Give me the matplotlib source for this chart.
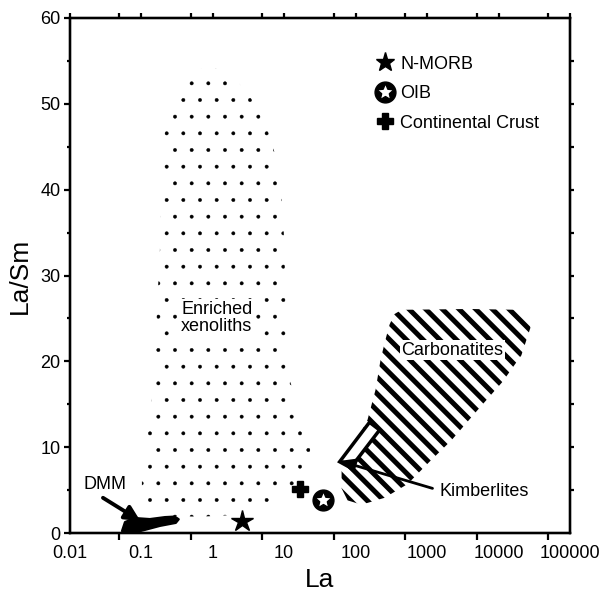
import matplotlib
matplotlib.use('Agg')
import numpy as np
import matplotlib.pyplot as plt
from matplotlib.patches import Polygon
from matplotlib.lines import Line2D
from matplotlib.path import Path

plt.rcParams['font.family'] = ['Liberation Sans', 'DejaVu Sans']

# axis ticks
la_ticks = [0.01, 0.1, 1, 10, 100, 1000, 10000, 100000]
la_tick_labels = ['0.01', '0.1', '1', '10', '100', '1000', '10000', '100000']
la_half_ticks = [0.05, 0.5, 5, 50, 500, 5000, 50000]
lasm_ticks = [0, 10, 20, 30, 40, 50, 60]
lasm_half_ticks = [5, 15, 25, 35, 45, 55]

# reservoirs (La, La/Sm)
nmorb = (2.6, 1.4)
oib = (35, 3.9)
crust = (17, 5.1)

# enriched xenolith field outline
xeno_la = [0.81, 1.75, 3.3, 5.9, 8.7, 9.9, 10.6, 12.0, 16.6, 22.9, 23.6, 12.0,
           5.4, 2.05, 0.67, 0.216, 0.133, 0.103, 0.103, 0.142, 0.162, 0.184,
           0.196, 0.238, 0.35]
xeno_lasm = [54.5, 53.5, 51.0, 47.0, 42.3, 35.3, 27.2, 17.8, 14.3, 12.0, 6.8, 5.2,
             3.3, 2.1, 1.9, 2.0, 3.3, 5.0, 7.3, 15.5, 23.7, 33.0,
             44.6, 49.3, 52.2]

# carbonatite field outline
carb_la = [440, 3924, 19600, 27040, 27920, 20890, 11350, 5073, 2198, 1084,
           534.5, 254.9, 121.6, 77.6, 63.9, 63.9, 97.1, 147.5, 190.9, 224.3,
           260, 300, 350]
carb_lasm = [26.0, 26.1, 26.0, 25.1, 23.9, 20.7, 17.6, 14.3, 10.8, 8.3,
             5.7, 4.1, 3.3, 3.8, 5.2, 7.3, 10.3, 13.2, 16.7, 20.2,
             22.4, 24.3, 25.5]

# kimberlite box
kimb_la = [60.0, 157, 217, 85.5]
kimb_lasm = [8.3, 12.9, 12.0, 7.6]

# DMM field
dmm_la = [0.0541, 0.0596, 0.0822, 0.133, 0.216, 0.297, 0.338, 0.307, 0.184,
          0.113, 0.0822, 0.0596]
dmm_lasm = [0.23, 1.28, 1.75, 1.63, 1.86, 1.92, 1.6, 1.17, 0.82, 0.35, 0.06, 0.0]

# OIB symbol: black disc with a white star cut out
circ = Path.unit_circle()
star = Path.unit_regular_star(5, 0.45)
oib_marker = Path(np.concatenate([circ.vertices, star.vertices[::-1] * 0.86]),
                  np.concatenate([circ.codes, star.codes]))

fig = plt.figure(figsize=(6.02, 5.92), dpi=100)
ax = fig.add_axes([69.5 / 602, 59 / 592, 500.5 / 602, 515 / 592])
ax.set_xscale('log')
ax.set_xlim(0.01, 100000)
ax.set_ylim(0, 60)

# fields
xeno = Polygon(list(zip(xeno_la, xeno_lasm)), closed=True, facecolor='none',
               edgecolor='black', linewidth=0, hatch='.', zorder=1)
if hasattr(xeno, 'set_hatch_linewidth'):
    xeno.set_hatch_linewidth(0.3)
ax.add_patch(xeno)

carb = Polygon(list(zip(carb_la, carb_lasm)), closed=True, facecolor='none',
               edgecolor='black', linewidth=0, hatch='\\\\', zorder=1)
if hasattr(carb, 'set_hatch_linewidth'):
    carb.set_hatch_linewidth(3.6)
ax.add_patch(carb)

kimb = Polygon(list(zip(kimb_la, kimb_lasm)), closed=True, facecolor='white',
               edgecolor='black', linewidth=2.5, zorder=3)
ax.add_patch(kimb)

dmm = Polygon(list(zip(dmm_la, dmm_lasm)), closed=True, facecolor='black',
              edgecolor='black', linewidth=1.5, joinstyle='round', zorder=3)
ax.add_patch(dmm)

# labels
ax.text(1.15, 25.1, 'Enriched\nxenoliths', ha='center', va='center', fontsize=13,
        linespacing=1.0, zorder=4,
        bbox=dict(facecolor='white', edgecolor='none', pad=1))
ax.text(2270, 21.3, 'Carbonatites', ha='center', va='center', fontsize=13, zorder=4,
        bbox=dict(facecolor='white', edgecolor='none', pad=1))
ax.text(1500, 4.8, 'Kimberlites', ha='left', va='center', fontsize=13, zorder=4)
ax.text(0.031, 5.6, 'DMM', ha='center', va='center', fontsize=13, zorder=4)

ax.annotate('', xy=(0.098, 1.4), xytext=(0.0294, 4.1),
            arrowprops=dict(arrowstyle='-|>,head_length=0.9,head_width=0.45',
                            color='black', lw=2.8, shrinkA=0, shrinkB=0),
            zorder=4)
ax.annotate('', xy=(60, 8.4), xytext=(1194, 5.2),
            arrowprops=dict(arrowstyle='-|>,head_length=0.9,head_width=0.4',
                            color='black', lw=2.0, shrinkA=0, shrinkB=0),
            zorder=4)

# reservoirs
ax.plot(*nmorb, marker='*', color='black', ms=16, ls='none', zorder=5)
ax.plot(*oib, marker=oib_marker, color='black', ms=15, ls='none', zorder=5)
ax.plot(*crust, marker='P', color='black', ms=11, ls='none', zorder=5)

# legend
h1 = Line2D([], [], marker='*', color='black', ms=14, ls='none')
h2 = Line2D([], [], marker=oib_marker, color='black', ms=15, ls='none')
h3 = Line2D([], [], marker='P', color='black', ms=11, ls='none')
ax.legend([h1, h2, h3], ['N-MORB', 'OIB', 'Continental Crust'],
          loc='upper left', bbox_to_anchor=(0.612, 0.927), frameon=False,
          fontsize=13, handlelength=1.0, handletextpad=0.35, borderpad=0,
          borderaxespad=0, labelspacing=0.69)

# axes styling
for s in ax.spines.values():
    s.set_linewidth(1.6)
ax.set_xticks(la_ticks)
ax.set_xticklabels(la_tick_labels)
ax.set_xticks(la_half_ticks, minor=True)
ax.set_xticklabels([], minor=True)
ax.tick_params(axis='x', which='major', length=0, pad=9, labelsize=13)
ax.tick_params(axis='x', which='minor', length=5, width=1.6, direction='out')
ax.set_yticks(lasm_ticks)
ax.set_yticks(lasm_half_ticks, minor=True)
ax.tick_params(axis='y', which='major', length=4.5, width=1.6, direction='out',
               pad=2, labelsize=13)
ax.tick_params(axis='y', which='minor', length=2, width=1.6, direction='out')

top = ax.twiny()
top.set_xscale('log')
top.set_xlim(ax.get_xlim())
top.set_xticks(la_ticks + la_half_ticks)
top.set_xticks([], minor=True)
top.tick_params(axis='x', length=3.5, width=1.6, direction='out', labeltop=False)

right = ax.twinx()
right.set_ylim(ax.get_ylim())
right.set_yticks(lasm_half_ticks + lasm_ticks[1:-1])
right.tick_params(axis='y', length=3, width=1.6, direction='out', labelright=False)
for a in (top, right):
    for s in a.spines.values():
        s.set_linewidth(1.6)

ax.set_xlabel('La', fontsize=19, labelpad=4)
ax.set_ylabel('La/Sm', fontsize=19, labelpad=6)

fig.savefig('out.png', dpi=100)
